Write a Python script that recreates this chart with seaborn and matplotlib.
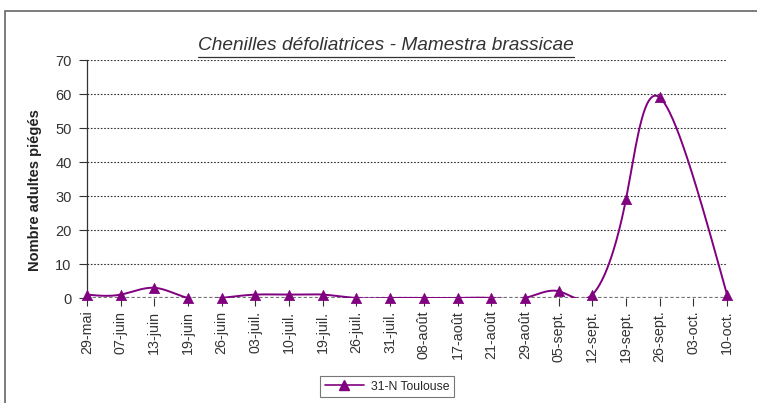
import matplotlib
matplotlib.use("Agg")
import matplotlib.pyplot as plt
import numpy as np
import pandas as pd
import seaborn as sns
from matplotlib.lines import Line2D
from matplotlib.patches import Rectangle

DATES = ["29-mai", "07-juin", "13-juin", "19-juin", "26-juin", "03-juil.", "10-juil.",
         "19-juil.", "26-juil.", "31-juil.", "08-août", "17-août", "21-août", "29-août",
         "05-sept.", "12-sept.", "19-sept.", "26-sept.", "03-oct.", "10-oct."]
CAPTURES = [1, 1, 3, 0, 0, 1, 1, 1, 0, 0, 0, 0, 0, 0, 2, 1, 29, 59, np.nan, 1]
SERIES_NAME = "31-N Toulouse"
Y_TICKS = [0, 10, 20, 30, 40, 50, 60, 70]
TITLE = "Chenilles défoliatrices - Mamestra brassicae"
Y_LABEL = "Nombre adultes piégés"
PURPLE = "#800080"


def natural_coeffs(t, v):
    n = len(t)
    h = np.diff(t)
    A = np.zeros((n, n))
    b = np.zeros(n)
    A[0, 0] = A[-1, -1] = 1
    for i in range(1, n - 1):
        A[i, i - 1] = h[i - 1]
        A[i, i] = 2 * (h[i - 1] + h[i])
        A[i, i + 1] = h[i]
        b[i] = 6 * ((v[i + 1] - v[i]) / h[i] - (v[i] - v[i - 1]) / h[i - 1])
    return np.linalg.solve(A, b)


def eval_spline(t, v, M, tt, i):
    h = t[i + 1] - t[i]
    a = t[i + 1] - tt
    c = tt - t[i]
    return (M[i] * a ** 3 + M[i + 1] * c ** 3) / (6 * h) \
        + (v[i] / h - M[i] * h / 6) * a + (v[i + 1] / h - M[i + 1] * h / 6) * c


def parametric_spline(x, y, steps=60):
    """Smoothed line like the spreadsheet: parametric natural cubic spline,
    one parameter step per data point (missing values skipped)."""
    x = np.asarray(x, float)
    y = np.asarray(y, float)
    t = np.arange(len(x), dtype=float)
    Mx = natural_coeffs(t, x)
    My = natural_coeffs(t, y)
    xs, ys = [], []
    for i in range(len(t) - 1):
        tt = np.linspace(t[i], t[i + 1], steps, endpoint=(i == len(t) - 2))
        xs.append(eval_spline(t, x, Mx, tt, i))
        ys.append(eval_spline(t, y, My, tt, i))
    return np.concatenate(xs), np.concatenate(ys)


sns.set_style("white")
plt.rcParams["font.family"] = ["Liberation Sans", "DejaVu Sans"]

df = pd.DataFrame({"pos": np.arange(len(DATES)), "date": DATES, "captures": CAPTURES})
known = df.dropna()
curve_x, curve_y = parametric_spline(known["pos"], known["captures"])
curve = pd.DataFrame({"pos": curve_x, "captures": curve_y})

fig = plt.figure(figsize=(7.57, 4.03), dpi=100)
ax = fig.add_axes([87 / 757, 105 / 403, 640 / 757, 238 / 403])

sns.lineplot(data=curve, x="pos", y="captures", color=PURPLE, linewidth=1.4,
             sort=False, estimator=None, ax=ax, zorder=3)
sns.scatterplot(data=known, x="pos", y="captures", color=PURPLE, marker="^", s=55,
                edgecolor=PURPLE, linewidth=0.5, ax=ax, zorder=4, clip_on=False)

ax.set_xlim(0, len(DATES) - 1)
ax.set_ylim(0, 70)
ax.set_xticks(df["pos"])
ax.set_xticklabels(DATES, rotation=90, fontsize=10.3, color="#333333")
ax.set_yticks(Y_TICKS)
ax.set_yticklabels([str(v) for v in Y_TICKS], fontsize=10.5, color="#333333")
ax.tick_params(axis="both", length=6, width=0.8, color="#333333", direction="out")
ax.tick_params(axis="x", bottom=True, pad=3)
ax.tick_params(axis="y", left=True, pad=5)
ax.set_xlabel("")
ax.set_ylabel(Y_LABEL, fontsize=10.5, fontweight="bold", color="#222222")
ax.yaxis.set_label_coords(-45 / 640, 0.454)

for v in Y_TICKS[1:]:
    ax.axhline(v, color="#333333", linestyle=(0, (1.5, 1.5)), linewidth=0.8, zorder=1)
ax.axhline(0, color="#777777", linestyle=(0, (1.5, 1)), linewidth=1.6, zorder=2)

for side in ["top", "right", "bottom"]:
    ax.spines[side].set_visible(False)
ax.spines["left"].set_color("#333333")
ax.spines["left"].set_linewidth(0.9)

# title with underline
title = fig.text(386 / 757, 1 - 50 / 403, TITLE, ha="center", va="baseline",
                 fontsize=13.8, fontstyle="italic", color="#333333")
fig.canvas.draw()
bb = title.get_window_extent().transformed(fig.transFigure.inverted())
fig.add_artist(Line2D([bb.x0, bb.x1], [1 - 56.5 / 403] * 2,
                      transform=fig.transFigure, color="#333333", linewidth=0.9))

handle = Line2D([], [], color=PURPLE, marker="^", markersize=7, linewidth=1.2)
leg = fig.legend([handle], [SERIES_NAME], loc="center", bbox_to_anchor=(387 / 757, 1 - 386.5 / 403),
                 fontsize=8.8, frameon=True, fancybox=False, edgecolor="#555555",
                 handlelength=3.2, borderpad=0.4, handletextpad=0.6)
leg.get_frame().set_linewidth(0.8)

# outer chart frame and the header text cut off above it
fig.add_artist(Rectangle((5 / 757, -0.1), 1.2, 1 - 11 / 403 + 0.1, transform=fig.transFigure,
                         fill=False, edgecolor="#666666", linewidth=1.2))
fig.text(91 / 757, 1 + 5 / 403, "(", color="#990000", fontsize=13, va="baseline")
fig.text(234 / 757, 1 + 5 / 403, "),", color="#990000", fontsize=13, va="baseline")

fig.savefig("out.png", dpi=100)
